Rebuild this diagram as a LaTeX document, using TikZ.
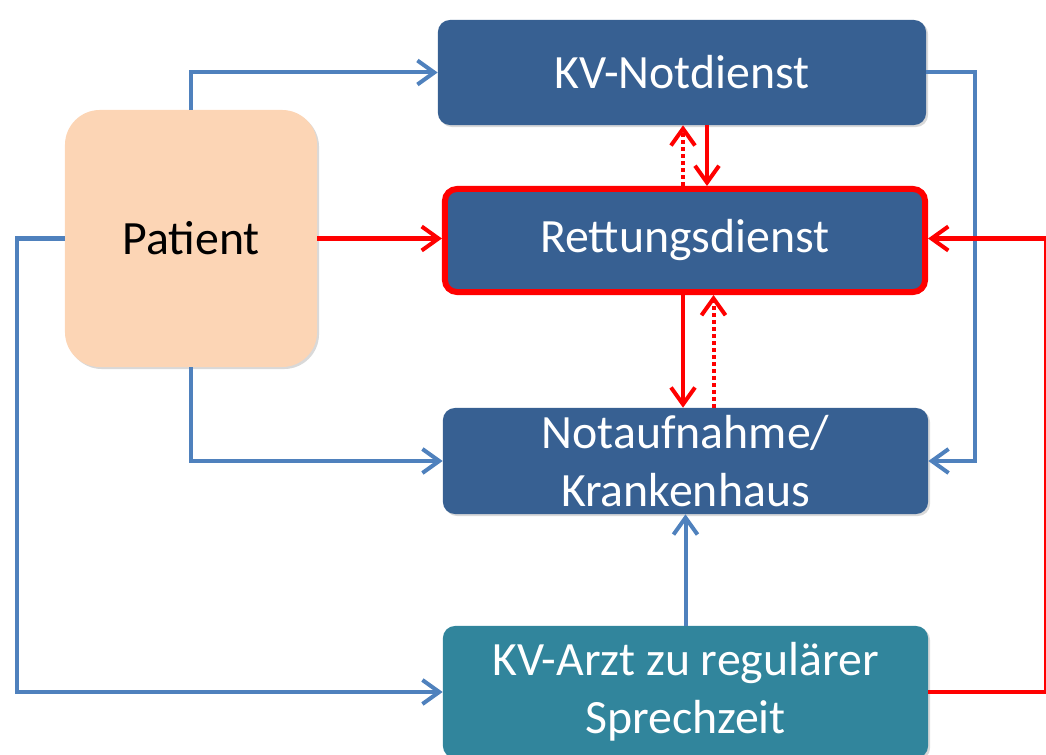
\documentclass[tikz,border=0pt]{standalone}
\usepackage{fontspec}
\setmainfont{Carlito}
\usetikzlibrary{arrows.meta,shadows}

\definecolor{boxblue}{RGB}{55,96,146}
\definecolor{boxteal}{RGB}{49,133,156}
\definecolor{patpeach}{RGB}{252,213,181}
\definecolor{lineblue}{RGB}{79,129,189}

\begin{document}
\begin{tikzpicture}[x=0.025cm,y=-0.025cm,
    box/.style={rectangle, rounded corners=0.3cm, fill=boxblue, text=white,
        align=center, font=\fontsize{34}{41}\selectfont, inner sep=0pt,
        drop shadow={opacity=0.3, shadow xshift=0.05cm, shadow yshift=-0.05cm}},
    bluearrow/.style={draw=lineblue, line width=0.1cm,
        -{Straight Barb[length=0.42cm,width=0.6cm]}},
    redarrow/.style={draw=red, line width=0.1cm,
        -{Straight Barb[length=0.42cm,width=0.6cm]}},
    dotarrow/.style={redarrow, dash pattern=on 0.1cm off 0.075cm}]

\useasboundingbox (0,0) rectangle (1046,755);

% boxes
\node[box, minimum width=12.2cm, minimum height=2.625cm] (notdienst) at (682,72.5) {KV-Notdienst};
\node[box, draw=red, line width=0.15cm, minimum width=12cm, minimum height=2.575cm] (rettung) at (685,240.5) {Rettungsdienst};
\node[box, fill=patpeach, text=black, rounded corners=0.875cm, minimum width=6.3cm, minimum height=6.425cm] (patient) at (191,238.5) {Patient};
\node[box, minimum width=12.125cm, minimum height=2.65cm] (notaufnahme) at (685.5,461) {Notaufnahme/\\Krankenhaus};
\node[box, fill=boxteal, minimum width=12.125cm, minimum height=3.3cm] (arzt) at (685.5,692) {KV-Arzt zu regulärer\\Sprechzeit};

\coordinate (lft) at (17,0);
\coordinate (rgt) at (975,0);
\coordinate (redr) at (1045.5,0);

% blue paths
\draw[bluearrow] (patient.north) |- (notdienst.west);
\draw[bluearrow] (patient.south) |- (notaufnahme.west);
\draw[bluearrow] (patient.west) -- (patient.west -| lft) |- (arzt.west);
\draw[bluearrow] (notdienst.east) -- (notdienst.east -| rgt) -- (notaufnahme.east -| rgt) -- (notaufnahme.east);
\draw[bluearrow] (arzt.north) -- (notaufnahme.south);

% red paths
\draw[redarrow] (patient.east) -- (rettung.west |- patient.east);
\draw[redarrow] (arzt.east) -- (arzt.east -| redr) -- (patient.east -| redr) -- (rettung.east |- patient.east);
\draw[redarrow] ([xshift=0.625cm]notdienst.south) -- ([xshift=0.625cm]notdienst.south |- rettung.north);
\draw[dotarrow] ([xshift=-0.05cm]rettung.north) -- ([xshift=-0.05cm]rettung.north |- notdienst.south);
\draw[redarrow] ([xshift=-0.05cm]rettung.south) -- ([xshift=-0.05cm]rettung.south |- notaufnahme.north);
\draw[dotarrow] ([xshift=0.7cm]notaufnahme.north) -- ([xshift=0.7cm]notaufnahme.north |- rettung.south);

\end{tikzpicture}
\end{document}
